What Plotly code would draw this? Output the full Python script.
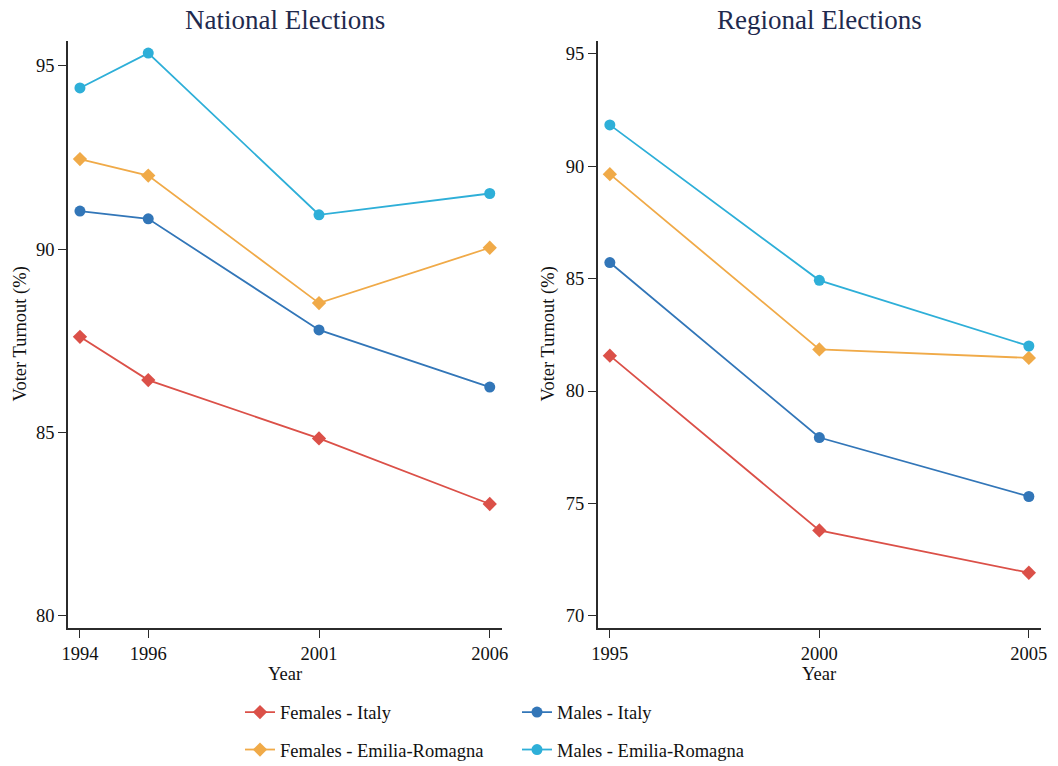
import plotly.graph_objects as go
from plotly.subplots import make_subplots

# Turnout data (%)
national_years = [1994, 1996, 2001, 2006]
regional_years = [1995, 2000, 2005]

series_names = ["Females - Italy", "Males - Italy",
                "Females - Emilia-Romagna", "Males - Emilia-Romagna"]

national_females_italy = [87.61, 86.43, 84.84, 83.05]
national_males_italy = [91.04, 90.83, 87.80, 86.24]
national_females_er = [92.46, 92.01, 88.53, 90.04]
national_males_er = [94.40, 95.35, 90.94, 91.52]

regional_females_italy = [81.57, 73.80, 71.92]
regional_males_italy = [85.71, 77.93, 75.31]
regional_females_er = [89.64, 81.85, 81.47]
regional_males_er = [91.83, 84.92, 82.00]

national_ticks = [1994, 1996, 2001, 2006]
regional_ticks = [1995, 2000, 2005]
national_yticks = [80, 85, 90, 95]
regional_yticks = [70, 75, 80, 85, 90, 95]

W, H = 1058, 766
FONT = "Liberation Serif"
TEXT = "#111111"
AXIS = "#2b2b2b"

colors = {
    "Females - Italy": "#db5048",
    "Males - Italy": "#3276b8",
    "Females - Emilia-Romagna": "#f0aa48",
    "Males - Emilia-Romagna": "#2eafd8",
}
symbols = {
    "Females - Italy": "diamond",
    "Males - Italy": "circle",
    "Females - Emilia-Romagna": "diamond",
    "Males - Emilia-Romagna": "circle",
}
legend_of = {
    "Females - Italy": "legend",
    "Males - Italy": "legend",
    "Females - Emilia-Romagna": "legend2",
    "Males - Emilia-Romagna": "legend2",
}

national = dict(zip(series_names, [national_females_italy, national_males_italy,
                                   national_females_er, national_males_er]))
regional = dict(zip(series_names, [regional_females_italy, regional_males_italy,
                                   regional_females_er, regional_males_er]))

fig = make_subplots(rows=1, cols=2)

for col, (years, data) in enumerate([(national_years, national),
                                     (regional_years, regional)], start=1):
    for name in series_names:
        fig.add_trace(go.Scatter(
            x=years, y=data[name], name=name, mode="lines+markers",
            line=dict(color=colors[name], width=1.8),
            marker=dict(symbol=symbols[name], color=colors[name], size=11),
            showlegend=(col == 1), legend=legend_of[name],
        ), row=1, col=col)


def px_x(p):
    return p / W


def px_y(p):
    return 1 - p / H


y_dom = [px_y(628.3), px_y(41)]
axis_common = dict(showline=True, linecolor=AXIS, linewidth=1.5, ticks="outside",
                   ticklen=8, tickwidth=1.2, tickcolor=AXIS, showgrid=False,
                   zeroline=False, tickfont=dict(family=FONT, size=18.5, color=TEXT),
                   automargin=False)

fig.update_xaxes(domain=[px_x(68), px_x(501.7)], range=[1993.65, 2006.35],
                 tickvals=national_ticks, **axis_common, row=1, col=1)
fig.update_xaxes(domain=[px_x(597.7), px_x(1041)], range=[1994.71, 2005.29],
                 tickvals=regional_ticks, **axis_common, row=1, col=2)
fig.update_yaxes(domain=y_dom, range=[79.66, 95.68], tickvals=national_yticks,
                 **axis_common, row=1, col=1)
fig.update_yaxes(domain=y_dom, range=[69.45, 95.56], tickvals=regional_yticks,
                 **axis_common, row=1, col=2)

annotations = [
    dict(text="National Elections", x=px_x(285), y=px_y(20), size=27, color="#1f2a4e"),
    dict(text="Regional Elections", x=px_x(819), y=px_y(20), size=27, color="#1f2a4e"),
    dict(text="Year", x=px_x(285), y=px_y(674), size=18.5, color=TEXT),
    dict(text="Year", x=px_x(819), y=px_y(674), size=18.5, color=TEXT),
]
for a in annotations:
    fig.add_annotation(text=a["text"], x=a["x"], y=a["y"], xref="paper", yref="paper",
                       xanchor="center", yanchor="middle", showarrow=False,
                       font=dict(family=FONT, size=a["size"], color=a["color"]))
for xc in (20, 548):
    fig.add_annotation(text="Voter Turnout (%)", x=px_x(xc), y=px_y(334.5),
                       xref="paper", yref="paper", xanchor="center", yanchor="middle",
                       textangle=-90, showarrow=False,
                       font=dict(family=FONT, size=18.5, color=TEXT))

legend_common = dict(orientation="h", xanchor="left", yanchor="middle",
                     entrywidth=232, entrywidthmode="pixels",
                     font=dict(family=FONT, size=18.5, color=TEXT),
                     bgcolor="rgba(0,0,0,0)", borderwidth=0)

fig.update_layout(
    width=W, height=H,
    margin=dict(l=0, r=0, t=0, b=0, autoexpand=False),
    paper_bgcolor="white", plot_bgcolor="white",
    legend=dict(x=px_x(240), y=px_y(712.5), **legend_common),
    legend2=dict(x=px_x(240), y=px_y(750), **legend_common),
)

fig.write_html("out.html")
